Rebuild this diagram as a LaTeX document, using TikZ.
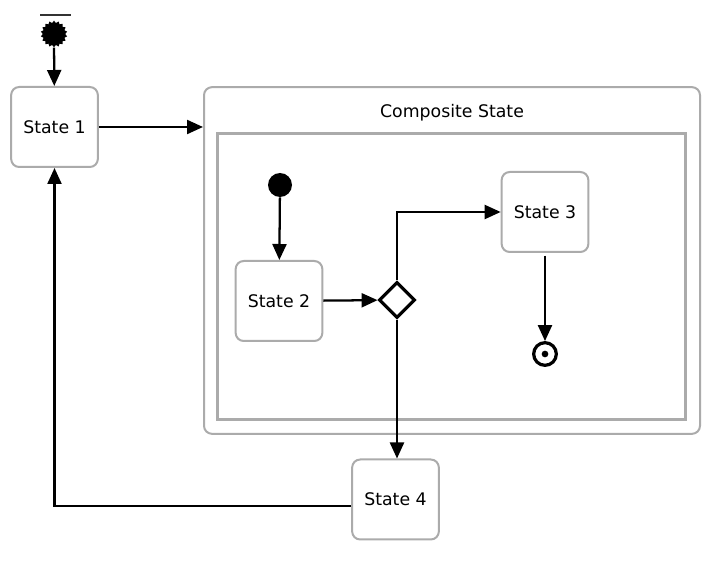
\documentclass[tikz,border=0pt]{standalone}
\usepackage{fontspec}
\setmainfont{DejaVu Sans}
\usetikzlibrary{shapes, arrows.meta}

\begin{document}
\begin{tikzpicture}[x=0.75pt, y=-0.75pt,
    statebox/.style={draw=black!33, line width=1.5pt, rounded corners=6pt, fill=white,
        minimum width=65pt, minimum height=60pt, font=\fontsize{13}{15}\selectfont},
    flow/.style={line width=1.7pt, -{Triangle[length=12pt, width=10.5pt]}},
    startdot/.style={circle, fill=black, inner sep=0pt, minimum size=18pt},
    choice/.style={diamond, draw, line width=2.4pt, fill=white, inner sep=0pt,
        minimum width=27pt, minimum height=27pt},
    enddot/.style={circle, draw, line width=2.4pt, inner sep=0pt, minimum size=17pt}]
    \useasboundingbox (0, 0) rectangle (719, 563);

    \node [draw=black!33, line width=1.5pt, rounded corners=6pt, minimum width=372pt,
        minimum height=260pt] (comp) at (452, 260.5) {};
    \node [draw=black!33, line width=2.2pt, minimum width=351pt, minimum height=214pt]
        (inner) at (451.5, 276.5) {};
    \node [font=\fontsize{13}{15}\selectfont] (title) at (452, 113) {Composite State};

    \draw [black!80, line width=1.5pt] (40, 15) -- (71, 15);
    \node [star, star points=18, star point ratio=1.2, fill=black, inner sep=0pt,
        minimum size=20pt] (top) at (54, 34) {};

    \node [statebox] (s1) at (54.5, 127) {State 1};
    \node [statebox] (s2) at (279, 301) {State 2};
    \node [statebox] (s3) at (545, 212) {State 3};
    \node [statebox] (s4) at (395.5, 499.5) {State 4};

    \node [startdot] (init) at (280, 185) {};
    \node [choice] (pick) at (397, 300) {};
    \node [enddot] (fin) at (545, 354) {};
    \fill (fin) circle (2.5pt);

    \draw [flow] (top) -- (s1);
    \draw [flow] (s1.east) -- (s1.east -| comp.west);
    \draw [flow] (init) -- (s2);
    \draw [flow] (s2) -- (pick);
    \draw [flow] (pick.north) |- (s3.west);
    \draw [flow, shorten <=2pt] (s3) -- (fin);
    \draw [flow] (pick.south) -- (pick.south |- s4.north);
    \draw [flow] ([yshift=-5pt]s4.west) -| (s1.south);
\end{tikzpicture}
\end{document}
